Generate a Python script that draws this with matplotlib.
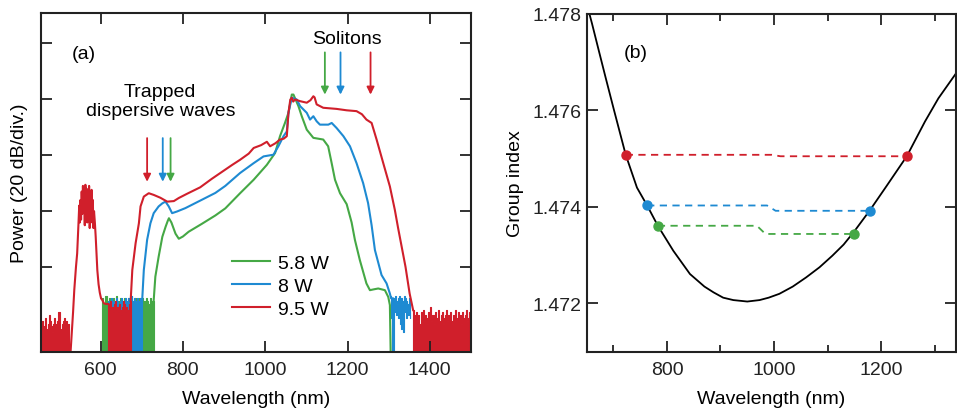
import numpy as np
import matplotlib
matplotlib.use('agg')
import matplotlib.pyplot as plt

plt.rcParams['font.family'] = ['Liberation Sans', 'DejaVu Sans']
plt.rcParams['font.size'] = 14

RED = '#d01f2b'
BLUE = '#1e8ad2'
GREEN = '#45a845'

# ---- (a) output spectra, dB relative to the pump peak ----
# noise floor blocks: (start nm, stop nm, tops), -100 = below the plotted range
red_noise_left = (456, 524, [-80, -79, -82, -81, -78, -82, -100, -80, -77, -79, -81, -83, -80, -78,
                             -80, -81, -79, -76, -100, -82, -80, -79, -78, -81, -79, -82, -80, -100])
green_noise_left = (603, 729, [-72, -71, -73, -73, -70, -72, -74, -71, -72, -72, -73, -71, -75, -72, -70, -73,
                               -72, -74, -71, -74, -72, -73, -71, -72, -73, -74, -71, -72, -73, -70, -72, -74,
                               -71, -73, -72, -75, -71, -72, -74, -71, -73, -72, -75, -71, -72, -74, -73, -71,
                               -72, -74, -72])
blue_noise_left = (618, 701, [-72, -100, -73, -71, -74, -72, -73, -73, -71, -72, -74, -73, -72, -71, -73, -72,
                              -74, -71, -72, -73, -71, -72, -74, -70, -72, -73, -71, -72, -73, -71, -73, -72,
                              -71, -73, -72])
red_noise_mid = (619, 673, [-73, -75, -72, -74, -74, -76, -73, -72, -75, -74, -76, -73, -75, -77, -74, -72,
                            -73, -76, -74, -75, -75, -73, -72])
blue_noise_right = (1305, 1352, [-70, -71, -72, -71, -71, -70, -72, -73, -71, -70, -72, -71, -73, -72, -70,
                                 -71, -72, -73, -71, -72],
                    [-75, -78, -100, -100, -76, -75, -77, -76, -78, -75, -80, -82, -77, -83, -76, -75,
                     -78, -77, -76, -78])
red_noise_right = (1360, 1500, [-75, -78, -77, -76, -79, -77, -80, -100, -76, -78, -75, -79, -77, -78, -80,
                                -76, -78, -74, -79, -77, -77, -80, -76, -78, -75, -100, -79, -77, -76, -80,
                                -78, -77, -75, -79, -77, -78, -76, -79, -80, -77, -79, -75, -78, -100, -76,
                                -79, -77, -80, -76, -78, -78, -77, -75, -79, -78, -76, -77])

red_peak_wl = [523, 527, 530, 533, 536, 540, 543, 546, 548, 549.5, 551, 552.5, 554, 555.5, 557, 558.5, 560,
               561.5, 563, 564.5, 566, 567.5, 569, 570.5, 572, 573.5, 575, 576.5, 578, 579.5, 581, 582.5, 584,
               586, 588, 590, 592, 595, 598, 601, 604, 608, 613, 619]
red_peak_db = [-90, -90, -83, -76, -68, -60, -55, -45, -38, -44, -36, -43, -33, -41, -31, -40, -34.8, -45,
               -30.6, -42, -32, -44, -33, -40, -31, -46, -35, -42, -32.4, -44, -36, -46, -40, -44, -49, -55,
               -61, -66, -69, -71, -71.6, -72.8, -73, -73]

red_wl = [673, 677, 685, 693, 697, 705, 717, 729, 745, 762, 778, 790, 810, 842, 870, 891, 920, 939, 960, 972,
          990, 1004, 1012, 1025, 1036, 1045, 1052.5, 1056.5, 1061, 1064.6, 1068, 1072.6, 1084.8, 1101, 1110,
          1117, 1120, 1125, 1141, 1173.5, 1198, 1222, 1235, 1246, 1258.6, 1270.7, 1286.9, 1303, 1315, 1323,
          1341, 1351, 1359.5]
red_db = [-72, -60.9, -51.4, -44.3, -38.3, -34.8, -33.6, -34.2, -35.2, -36.6, -36.4, -35.3, -33.8, -31.5,
          -28.5, -26.4, -23.5, -21.7, -19.5, -17.5, -16.5, -15.3, -16.9, -15.8, -14.5, -14.2, -13.3, -5, -0.3,
          0.4, -1, -0.25, -0.85, -1.4, -0.5, 0.9, 0.5, -2, -3.2, -3.6, -4.1, -4.4, -5.5, -7.4, -8.6, -14.5,
          -22.9, -31.2, -39.5, -46, -59.8, -69.3, -75.2]

blue_wl = [701, 705, 713, 721, 729, 741, 750, 757.6, 765.6, 773.7, 785.8, 806, 846.5, 878.8, 903, 939, 972,
           996, 1020, 1032, 1044.5, 1052.5, 1056.5, 1064.6, 1076.7, 1084.8, 1101, 1109, 1117, 1125, 1133,
           1153.4, 1161.6, 1173.5, 1190, 1206, 1222, 1238, 1250, 1258.6, 1266.6, 1282.7, 1295, 1303, 1306,
           1311, 1312]
blue_db = [-71.7, -60.9, -50.2, -44.3, -40.7, -38.3, -37.2, -36.6, -38.3, -40.7, -40.1, -38.9, -35.9, -33.5,
           -31, -26.4, -22.9, -20.5, -19.9, -16.9, -13.3, -11.6, -5, 0.4, -0.25, -2.6, -5, -7.4, -6.2, -8, -9.2,
           -9.2, -8.6, -10.4, -13.3, -16.9, -22.9, -30, -37.1, -45, -53.8, -62.7, -65.7, -69.3, -71, -71,
           -100]

green_wl = [729, 733, 741, 750, 758, 763, 766, 772, 782, 790, 800, 814, 846, 879, 903, 939, 972, 1004, 1024,
            1036, 1048, 1056.5, 1064.6, 1068.6, 1080.7, 1088.8, 1101, 1117, 1141, 1153, 1161.5, 1169.6,
            1181.8, 1198, 1210, 1218, 1230, 1246, 1254.5, 1264, 1274.7, 1290.9, 1299, 1303, 1306]
green_db = [-71.7, -63.3, -56.2, -49.1, -45.5, -43.5, -42.5, -44, -48, -49.8, -49, -47.3, -44.5, -41.5, -39,
            -33.6, -28.8, -23.5, -19.3, -13.3, -8.6, -5, 1.5, 1.5, -2.6, -6.2, -11, -13.9, -14.5, -16.9,
            -22.9, -28.8, -33.6, -37.5, -44, -50.2, -57.4, -65.7, -68.1, -67.8, -67.5, -68.1, -70.5, -73.4,
            -100]

trapped_wl = {'red': 713, 'blue': 751, 'green': 770}
soliton_wl = {'green': 1145, 'blue': 1183, 'red': 1256}

# ---- (b) group index of the fibre ----
gi_wl = [648, 660, 672, 685, 701, 723, 744, 763, 783, 812, 843, 870, 887, 905, 924, 950, 973, 990, 1010,
         1035, 1060, 1085, 1109, 1130, 1149, 1179, 1210, 1248, 1282, 1307, 1342]
gi_n = [1.47830, 1.47780, 1.47727, 1.47670, 1.47601, 1.47508, 1.47440, 1.47403, 1.47361, 1.47309, 1.47261,
        1.47235, 1.47223, 1.47212, 1.47207, 1.47204, 1.47207, 1.47212, 1.47220, 1.47235, 1.47254, 1.47275,
        1.47299, 1.47322, 1.47348, 1.47393, 1.47443, 1.47505, 1.47577, 1.47625, 1.47680]

dw_wl = [723, 763, 783]          # red, blue, green
dw_n = [1.47508, 1.47403, 1.47361]
sol_wl = [1248, 1179, 1149]
sol_n = [1.47505, 1.47392, 1.47344]
step_wl = [1004, 995, 976]
pair_colors = [RED, BLUE, GREEN]


def noise_block(ax, block, color):
    lo = -100
    if len(block) == 4:
        start, stop, tops, lo = block
        lo = np.array(lo)
    else:
        start, stop, tops = block
    wl = np.linspace(start, stop, len(tops))
    ax.fill_between(wl, lo, tops, step='mid', color=color, lw=0.8, antialiased=False)


def style_axes(ax):
    for s in ax.spines.values():
        s.set_linewidth(1.5)
        s.set_color('#222222')
    ax.tick_params(which='both', direction='in', top=True, right=True, width=1.3, colors='#222222',
                   labelsize=14)
    ax.tick_params(which='major', length=8)
    ax.tick_params(which='minor', length=5)
    ax.tick_params(axis='x', which='both', pad=7)


fig = plt.figure(figsize=(9.57, 4.10), dpi=100)
ax1 = fig.add_axes([0.0428, 0.1397, 0.4493, 0.826])
ax2 = fig.add_axes([0.613, 0.1397, 0.386, 0.824])

# panel (a)
noise_block(ax1, green_noise_left, GREEN)
noise_block(ax1, blue_noise_left, BLUE)
noise_block(ax1, red_noise_left, RED)
noise_block(ax1, red_noise_mid, RED)
ax1.plot(green_wl, green_db, color=GREEN, lw=1.5, label='5.8 W')
ax1.plot(blue_wl, blue_db, color=BLUE, lw=1.5, label='8 W')
noise_block(ax1, blue_noise_right, BLUE)
ax1.plot(red_wl, red_db, color=RED, lw=1.5, label='9.5 W')
ax1.plot(red_peak_wl, red_peak_db, color=RED, lw=1.5)
noise_block(ax1, red_noise_right, RED)

colors = {'red': RED, 'blue': BLUE, 'green': GREEN}
for name, wl in trapped_wl.items():
    ax1.annotate('', xy=(wl, -30.5), xytext=(wl, -13),
                 arrowprops=dict(arrowstyle='-|>', color=colors[name], lw=1.3, mutation_scale=11))
for name, wl in soliton_wl.items():
    ax1.annotate('', xy=(wl, 0.5), xytext=(wl, 17.5),
                 arrowprops=dict(arrowstyle='-|>', color=colors[name], lw=1.3, mutation_scale=11))
ax1.text(745, -0.8, 'Trapped\ndispersive waves', ha='center', va='center', linespacing=1.2)
ax1.text(1198, 21.5, 'Solitons', ha='center', va='center')
ax1.text(560, 16, '(a)', ha='center', va='center')

ax1.set_xlim(455, 1500)
ax1.set_ylim(-90, 30.5)
ax1.set_xticks([600, 800, 1000, 1200, 1400])
ax1.set_yticks([-60, -40, -20, 0, 20])
ax1.set_yticklabels([])
ax1.set_xlabel('Wavelength (nm)', labelpad=8)
ax1.set_ylabel('Power (20 dB/div.)', labelpad=6)
style_axes(ax1)
ax1.legend(loc='upper left', bbox_to_anchor=(0.445, 0.287), frameon=False, handlelength=1.95,
           handletextpad=0.4, labelspacing=0.28, borderpad=0, borderaxespad=0, fontsize=14)

# panel (b)
ax2.plot(gi_wl, gi_n, color='black', lw=1.3)
for i in range(3):
    ax2.plot([dw_wl[i], step_wl[i] - 8, step_wl[i] + 8, sol_wl[i]], [dw_n[i], dw_n[i], sol_n[i], sol_n[i]],
             color=pair_colors[i], lw=1.3, ls=(0, (4, 3)))
    ax2.plot([dw_wl[i], sol_wl[i]], [dw_n[i], sol_n[i]], 'o', color=pair_colors[i], ms=6.5, ls='none')
ax2.text(741, 1.47721, '(b)', ha='center', va='center')

ax2.set_xlim(650, 1340)
ax2.set_ylim(1.471, 1.478)
ax2.set_xticks([800, 1000, 1200])
ax2.set_xticks([700, 900, 1100, 1300], minor=True)
ax2.set_yticks([1.472, 1.474, 1.476, 1.478])
ax2.set_yticklabels(['1.472', '1.474', '1.476', '1.478'])
ax2.set_xlabel('Wavelength (nm)', labelpad=8)
ax2.set_ylabel('Group index', labelpad=6)
style_axes(ax2)

fig.savefig('out.png', dpi=100)
